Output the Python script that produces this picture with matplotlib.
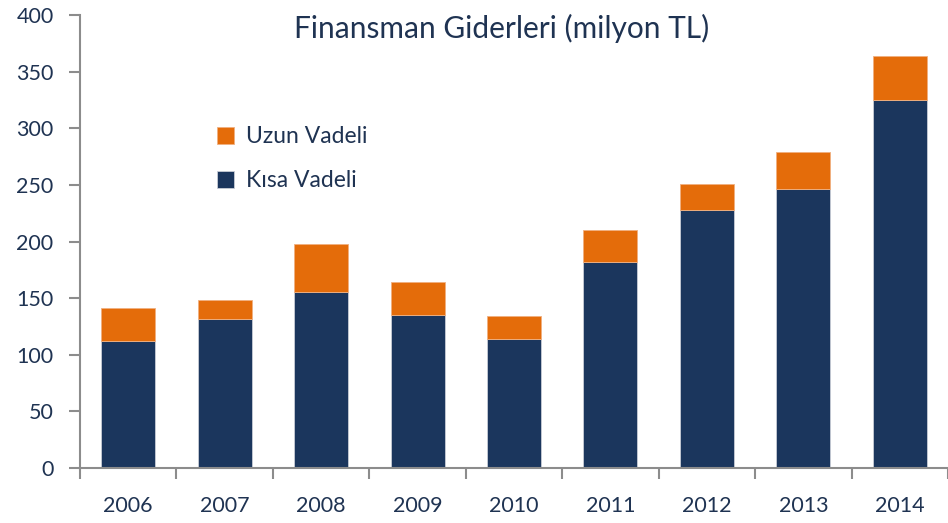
import matplotlib
matplotlib.use("Agg")
import matplotlib.pyplot as plt
import numpy as np

years = ["2006", "2007", "2008", "2009", "2010", "2011", "2012", "2013", "2014"]
kisa_vadeli = [112, 132, 155, 135, 114, 182, 228, 246, 325]
uzun_vadeli = [29, 16, 43, 29, 20, 28, 23, 33, 39]
y_ticks = [0, 50, 100, 150, 200, 250, 300, 350, 400]

navy = "#1b365d"
orange = "#e46c0a"
text_c = "#1f3352"
gray = "#8c8c8c"

plt.rcParams['font.family'] = ['Lato', 'DejaVu Sans']

fig = plt.figure(figsize=(9.48, 5.23), dpi=100)
ax = fig.add_axes([80/948, (523-468)/523, 868/948, 453/523])

x = np.arange(len(years))
ax.bar(x, kisa_vadeli, width=0.56, color=navy, edgecolor="#c8cdd6", linewidth=0.6, label="Kısa Vadeli", zorder=2)
ax.bar(x, uzun_vadeli, bottom=kisa_vadeli, width=0.56, color=orange, edgecolor="#f0b080", linewidth=0.6, label="Uzun Vadeli", zorder=2)

ax.set_xlim(-0.5, 8.4)
ax.set_ylim(0, 400)
ax.set_yticks(y_ticks)
ax.set_yticklabels([str(v) for v in y_ticks], fontsize=15.5, color=text_c)

ax.set_xticks(np.arange(len(years) + 1) - 0.5)
ax.set_xticklabels([])
ax.set_xticks(x, minor=True)
ax.set_xticklabels(years, minor=True, fontsize=15.5, color=text_c)
ax.tick_params(axis='x', which='major', length=8, color=gray, width=1.5, direction='out')
ax.tick_params(axis='x', which='minor', length=0, pad=20)
ax.tick_params(axis='y', length=8, color=gray, width=1.5, direction='out', pad=11)

for s in ['top', 'right']:
    ax.spines[s].set_visible(False)
for s in ['left', 'bottom']:
    ax.spines[s].set_color(gray)
    ax.spines[s].set_linewidth(1.5)

ax.set_title("Finansman Giderleri (milyon TL)", fontsize=21.5, color=text_c, x=0.486, y=0.93)

handles, labels = ax.get_legend_handles_labels()
leg = ax.legend(handles[::-1], labels[::-1], loc='upper left', bbox_to_anchor=(0.134, 0.80),
                frameon=False, fontsize=16.5, handlelength=0.75, handleheight=0.75,
                handletextpad=0.5, labelspacing=1.0)
for t in leg.get_texts():
    t.set_color(text_c)

fig.savefig("out.png", dpi=100)
